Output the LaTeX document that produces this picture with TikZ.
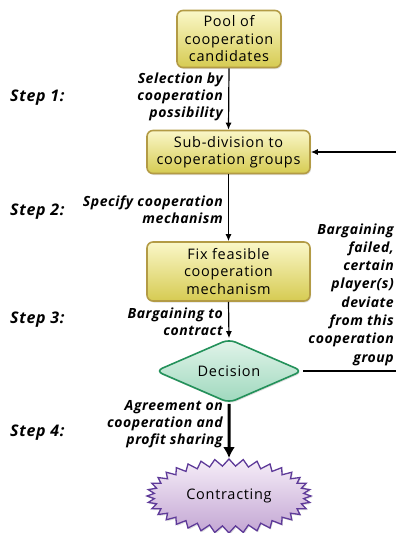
\documentclass[tikz,border=0pt]{standalone}
\usepackage{fontspec}
\setmainfont{Open Sans}
\newfontfamily\boxfont[LetterSpace=5]{Open Sans}
\newfontfamily\lblfont[LetterSpace=4]{Open Sans}
\usetikzlibrary{shapes.geometric,shapes.symbols,shadows,arrows.meta}
\definecolor{boxborder}{HTML}{B39B45}
\definecolor{boxtop}{HTML}{FAF7C8}
\definecolor{boxbot}{HTML}{D6CB52}
\definecolor{dborder}{HTML}{23915A}
\definecolor{dtop}{HTML}{E2F4EA}
\definecolor{dbot}{HTML}{9ED8BD}
\definecolor{sborder}{HTML}{5E3A99}
\definecolor{stop}{HTML}{F6EEF8}
\definecolor{sbot}{HTML}{C3A6D3}
\tikzset{
  ybox/.style={draw=boxborder, line width=1.6pt, rounded corners=6pt,
    top color=boxtop, bottom color=boxbot, align=center,
    font=\boxfont\fontsize{14.5}{17.5}\selectfont, inner sep=2pt,
    drop shadow={opacity=0.25, shadow xshift=1pt, shadow yshift=-1.5pt}},
  decis/.style={diamond, draw=dborder, line width=1.6pt, rounded corners=7pt,
    top color=dtop, bottom color=dbot, aspect=2.3, inner sep=0pt,
    minimum width=147pt, minimum height=64pt, font=\boxfont\fontsize{14.5}{17}\selectfont,
    drop shadow={opacity=0.25, shadow xshift=1pt, shadow yshift=-1.5pt}},
  burst/.style={starburst, starburst points=36, starburst point height=7pt,
    random starburst=0, draw=sborder, line width=1.3pt,
    top color=stop, bottom color=sbot, minimum width=164pt, minimum height=74pt,
    font=\boxfont\fontsize{14.5}{17}\selectfont,
    drop shadow={opacity=0.25, shadow xshift=1pt, shadow yshift=-1.5pt}},
  lbl/.style={font=\lblfont\bfseries\itshape\fontsize{14}{16.8}\selectfont, align=right, inner sep=0pt},
  steplbl/.style={font=\lblfont\bfseries\itshape\fontsize{16}{19}\selectfont, anchor=west, inner sep=0pt},
  arr/.style={line width=1.2pt, -{Latex[length=7pt,width=6pt]}},
  thickarr/.style={line width=3pt, -{Latex[length=11pt,width=12pt]}},
}
\begin{document}
\begin{tikzpicture}[x=1pt,y=-1pt]
\useasboundingbox (0,0) rectangle (396,533);
\node[ybox, minimum width=104pt, minimum height=57pt] (pool) at (229,39) {Pool of\\cooperation\\candidates};
\node[ybox, minimum width=163pt, minimum height=43pt] (sub) at (228.5,152) {Sub-division to\\cooperation groups};
\node[ybox, minimum width=163pt, minimum height=59pt] (fix) at (228.5,271.5) {Fix feasible\\cooperation\\mechanism};
\node[decis] (dec) at (229,371) {Decision};
\node[burst] (con) at (229,496) {Contracting};
\coordinate (rin) at (396,152);
\coordinate (rout) at (396,371);

\draw[arr] (pool.south) -- (sub.north);
\draw[arr] (sub.south) -- (fix.north);
\draw[arr] (fix.south) -- (dec.north);
\draw[thickarr] (dec.south) -- (con.north);
\draw[arr] (rin) -- (sub.east);
\draw[line width=1.2pt] (dec.east) -- (rout);

\node[steplbl] (s1) at (10,98) {Step 1:};
\node[steplbl] (s2) at (10,212) {Step 2:};
\node[steplbl] (s3) at (10,320) {Step 3:};
\node[steplbl] (s4) at (10,433) {Step 4:};

\node[lbl, anchor=east] (l1) at (223,97) {Selection by\\cooperation\\possibility};
\node[lbl, anchor=east] (l2) at (223,209.5) {Specify cooperation\\mechanism};
\node[lbl, anchor=east] (l3) at (223,321.5) {Bargaining to\\contract};
\node[lbl, anchor=east] (l4) at (223,424) {Agreement on\\cooperation and\\profit sharing};
\node[lbl, anchor=east, font=\lblfont\bfseries\itshape\fontsize{14}{18.3}\selectfont] (l5) at (394,294.5) {Bargaining\\failed,\\certain\\player(s)\\deviate\\from this\\cooperation\\group};
\end{tikzpicture}
\end{document}
